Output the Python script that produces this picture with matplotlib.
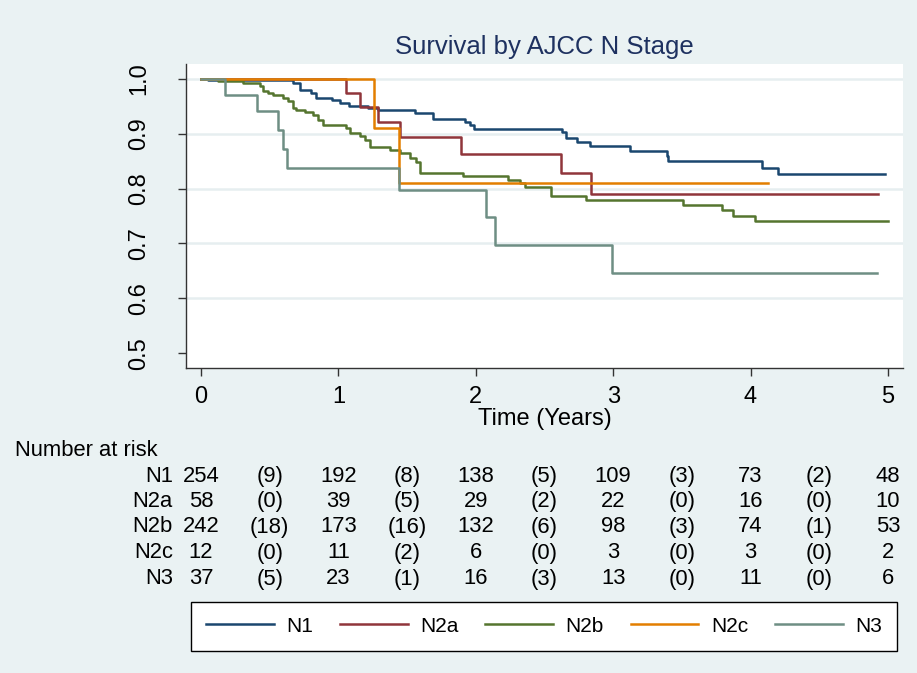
import matplotlib.pyplot as plt
import matplotlib.transforms as mtransforms

plt.rcParams['font.family'] = ['Liberation Sans', 'DejaVu Sans']

# Kaplan-Meier step curves (time in years, survival)
n1_t = [0, 0.05, 0.67, 0.72, 0.80, 0.835, 0.95, 1.01, 1.08, 1.215, 1.29, 1.555, 1.69,
        1.92, 1.955, 1.99, 2.63, 2.655, 2.74, 2.83, 3.12, 3.39, 3.40, 4.08, 4.20, 4.98]
n1_s = [1.0, 0.997, 0.993, 0.979, 0.974, 0.965, 0.962, 0.956, 0.951, 0.947, 0.943, 0.937, 0.927,
        0.922, 0.916, 0.908, 0.903, 0.893, 0.884, 0.878, 0.869, 0.860, 0.850, 0.838, 0.826, 0.826]

n2a_t = [0, 1.058, 1.16, 1.29, 1.446, 1.895, 2.62, 2.84, 4.93]
n2a_s = [1.0, 0.975, 0.948, 0.922, 0.894, 0.863, 0.829, 0.791, 0.791]

n2b_t = [0, 0.124, 0.306, 0.427, 0.447, 0.488, 0.524, 0.597, 0.633, 0.670, 0.694, 0.755,
         0.815, 0.852, 0.888, 1.058, 1.082, 1.155, 1.191, 1.228, 1.373, 1.446, 1.519, 1.568,
         1.592, 1.907, 2.234, 2.320, 2.356, 2.55, 2.805, 3.51, 3.795, 3.87, 4.03, 5.0]
n2b_s = [1.0, 0.996, 0.992, 0.986, 0.977, 0.974, 0.970, 0.965, 0.959, 0.947, 0.943, 0.939,
         0.934, 0.925, 0.916, 0.910, 0.901, 0.895, 0.889, 0.875, 0.870, 0.864, 0.855, 0.849,
         0.828, 0.822, 0.816, 0.810, 0.802, 0.786, 0.779, 0.770, 0.761, 0.750, 0.740, 0.740]

n2c_t = [0, 1.26, 1.44, 4.13]
n2c_s = [1.0, 0.910, 0.810, 0.810]

n3_t = [0, 0.172, 0.408, 0.56, 0.597, 0.626, 1.439, 2.077, 2.138, 2.994, 4.92]
n3_s = [1.0, 0.971, 0.942, 0.906, 0.872, 0.837, 0.797, 0.748, 0.698, 0.647, 0.647]

groups = ['N1', 'N2a', 'N2b', 'N2c', 'N3']
colors = ['#1a476f', '#90353b', '#55752f', '#e37e00', '#6e8e84']

# number at risk (at 0,1,..,5) and censored in between (in brackets)
at_risk = {
    'N1': [254, 192, 138, 109, 73, 48],
    'N2a': [58, 39, 29, 22, 16, 10],
    'N2b': [242, 173, 132, 98, 74, 53],
    'N2c': [12, 11, 6, 3, 3, 2],
    'N3': [37, 23, 16, 13, 11, 6],
}
censored = {
    'N1': [9, 8, 5, 3, 2],
    'N2a': [0, 5, 2, 0, 0],
    'N2b': [18, 16, 6, 3, 1],
    'N2c': [0, 2, 0, 0, 0],
    'N3': [5, 1, 3, 0, 0],
}
risk_years = [0, 1, 2, 3, 4, 5]
cens_years = [0.5, 1.5, 2.5, 3.5, 4.5]

bg = '#eaf2f3'
W, H = 917, 673
fig = plt.figure(figsize=(W / 100, H / 100), dpi=100, facecolor=bg)
ax = fig.add_axes([186 / W, 1 - 368 / H, (903 - 186) / W, (368 - 64) / H])
ax.set_facecolor('white')

curves = [(n1_t, n1_s), (n2a_t, n2a_s), (n2b_t, n2b_s), (n2c_t, n2c_s), (n3_t, n3_s)]
for (t, s), name, c in zip(curves, groups, colors):
    ax.step(t, s, where='post', color=c, lw=1.8, label=name, zorder=3)

ax.set_xlim(-0.11, 5.11)
ax.set_ylim(0.473, 1.027)
ax.set_xticks(range(6))
ax.set_yticks([0.5, 0.6, 0.7, 0.8, 0.9, 1.0])
ax.set_yticklabels(['0.5', '0.6', '0.7', '0.8', '0.9', '1.0'], rotation=90, va='center')
for g in [0.6, 0.7, 0.8, 0.9, 1.0]:
    ax.axhline(g, color='#e6eef0', lw=1.8, zorder=1)

for sp in ['top', 'right']:
    ax.spines[sp].set_visible(False)
for sp in ['left', 'bottom']:
    ax.spines[sp].set_color('#333333')
    ax.spines[sp].set_linewidth(1.0)
ax.tick_params(axis='y', length=6, width=1, color='#333333', pad=20, labelsize=17)
ax.tick_params(axis='x', length=6, width=1, color='#333333', pad=7, labelsize=17)
ax.set_xlabel('Time (Years)', fontsize=17, labelpad=0)

fig.text(544 / W, 1 - 47 / H, 'Survival by AJCC N Stage', ha='center', va='center',
         fontsize=18.5, color='#1e3160')

# risk table
fs = 15.8
tr = mtransforms.blended_transform_factory(ax.transData, fig.transFigure)
fig.text(15 / W, 1 - 451 / H, 'Number at risk', ha='left', va='center', fontsize=fs)
row_y = [476.5, 501.5, 527, 553, 579]
for name, yy in zip(groups, row_y):
    yf = 1 - yy / H
    fig.text(173 / W, yf, name, ha='right', va='center', fontsize=fs)
    for x, n in zip(risk_years, at_risk[name]):
        fig.text(x, yf, str(n), transform=tr, ha='center', va='center', fontsize=fs)
    for x, n in zip(cens_years, censored[name]):
        fig.text(x, yf, '(%d)' % n, transform=tr, ha='center', va='center', fontsize=fs)

leg = fig.legend(loc='center', bbox_to_anchor=(191 / W, 1 - 651 / H, 706 / W, 50 / H),
                 mode='expand', ncol=5, fontsize=15, handlelength=3.25, handletextpad=0.6,
                 borderpad=0.72, frameon=True, fancybox=False, borderaxespad=0)
leg.get_frame().set_edgecolor('black')
leg.get_frame().set_linewidth(1.0)
leg.get_frame().set_facecolor('white')
leg.get_frame().set_alpha(1)

fig.savefig('out.png', dpi=100, facecolor=bg)
